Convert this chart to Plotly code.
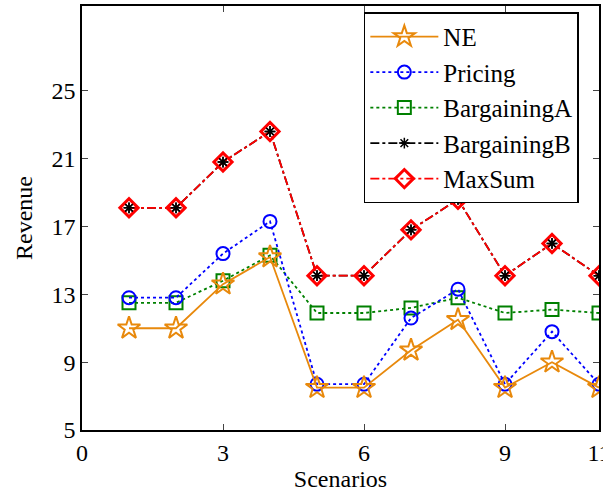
import plotly.graph_objects as go

scenarios = [1, 2, 3, 4, 5, 6, 7, 8, 9, 10, 11]
ne = [11.0, 11.0, 13.6, 15.2, 7.5, 7.5, 9.7, 11.5, 7.5, 9.0, 7.5]
pricing = [12.8, 12.8, 15.4, 17.3, 7.7, 7.7, 11.6, 13.3, 7.7, 10.8, 7.7]
bargaining_a = [12.5, 12.5, 13.8, 15.3, 11.9, 11.9, 12.2, 12.8, 11.9, 12.1, 11.9]
bargaining_b = [18.1, 18.1, 20.8, 22.6, 14.1, 14.1, 16.8, 18.6, 14.1, 16.0, 14.1]
max_sum = [18.1, 18.1, 20.8, 22.6, 14.1, 14.1, 16.8, 18.6, 14.1, 16.0, 14.1]

x_ticks = [0, 3, 6, 9, 11]
y_ticks = [5, 9, 13, 17, 21, 25]

FONT = "Liberation Serif, Times New Roman, Times, serif"

series = [
    # name, values, color, dash, symbol, size, marker line width, legend rank
    ("BargainingA", bargaining_a, "#008000", "dot", "square-open", 13, 2, 3),
    ("Pricing", pricing, "#0000FF", "dot", "circle-open", 13, 2, 2),
    ("NE", ne, "#E8890C", "solid", "star-open", 17, 2, 1),
    ("BargainingB", bargaining_b, "#000000", "dashdot", "asterisk-open", 9, 1.5, 4),
    ("MaxSum", max_sum, "#FF0000", "dashdot", "diamond-open", 14, 3, 5),
]

fig = go.Figure()
for name, vals, color, dash, symbol, size, mlw, rank in series:
    fig.add_trace(go.Scatter(
        x=scenarios, y=vals, name=name, mode="lines+markers",
        line=dict(color=color, dash=dash, width=1.8),
        marker=dict(symbol=symbol, size=size, color=color,
                    line=dict(color=color, width=mlw)),
        legendrank=rank, legendgroup=name,
    ))

# BargainingB asterisks sit on top of the MaxSum diamonds
fig.add_trace(go.Scatter(
    x=scenarios, y=bargaining_b, mode="markers", showlegend=False,
    legendgroup="BargainingB", hoverinfo="skip",
    marker=dict(symbol="asterisk-open", size=9, color="black",
                line=dict(color="black", width=1.5)),
))

axis_common = dict(
    showgrid=False, zeroline=False, showline=True, linecolor="black",
    linewidth=1.5, mirror="ticks", ticks="inside", ticklen=6,
    tickcolor="#444", tickfont=dict(family=FONT, size=24, color="black"),
    ticklabeloverflow="allow", automargin=False,
)

fig.update_layout(
    width=603, height=495,
    margin=dict(l=82, r=4, t=6, b=65),
    plot_bgcolor="white", paper_bgcolor="white",
    font=dict(family=FONT, size=24, color="black"),
    xaxis=dict(range=[0, 11], tickvals=x_ticks,
               title=dict(text="Scenarios", font=dict(family=FONT, size=24), standoff=2),
               **axis_common),
    yaxis=dict(range=[5, 30], tickvals=y_ticks,
               title=dict(text="Revenue", font=dict(family=FONT, size=24), standoff=12),
               **axis_common),
    legend=dict(
        x=0.961, y=0.985, xanchor="right", yanchor="top",
        bgcolor="white", bordercolor="black", borderwidth=1.5,
        font=dict(family=FONT, size=25, color="black"),
        traceorder="grouped", tracegroupgap=0, itemwidth=68,
    ),
)

fig.write_html("out.html")
